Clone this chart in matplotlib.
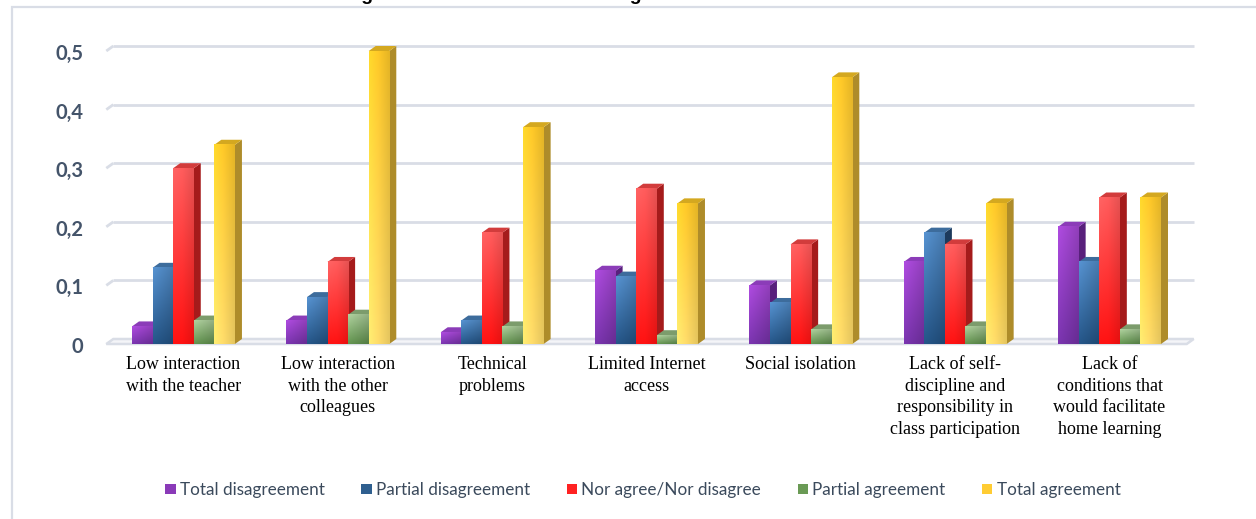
import numpy as np
import matplotlib
matplotlib.use("Agg")
import matplotlib.pyplot as plt
from matplotlib.patches import Polygon, Rectangle, Patch
from matplotlib.colors import to_rgb

categories = [
    "Low interaction\nwith the teacher",
    "Low interaction\nwith the other\ncolleagues",
    "Technical\nproblems",
    "Limited Internet\naccess",
    "Social isolation",
    "Lack of self-\ndiscipline and\nresponsibility in\nclass participation",
    "Lack of\nconditions that\nwould facilitate\nhome learning",
]
series_names = [
    "Total disagreement",
    "Partial disagreement",
    "Nor agree/Nor disagree",
    "Partial agreement",
    "Total agreement",
]
total_disagreement = [0.03, 0.04, 0.02, 0.125, 0.10, 0.14, 0.20]
partial_disagreement = [0.13, 0.08, 0.04, 0.115, 0.07, 0.19, 0.14]
neutral = [0.30, 0.14, 0.19, 0.265, 0.17, 0.17, 0.25]
partial_agreement = [0.04, 0.05, 0.03, 0.015, 0.025, 0.03, 0.025]
total_agreement = [0.34, 0.50, 0.37, 0.24, 0.455, 0.24, 0.25]
y_ticks = [0, 0.1, 0.2, 0.3, 0.4, 0.5]
y_tick_labels = ["0", "0,1", "0,2", "0,3", "0,4", "0,5"]

series = [total_disagreement, partial_disagreement, neutral,
          partial_agreement, total_agreement]

# (front top, front bottom, side, top face, legend swatch)
shades = [
    ("#a246d0", "#7231a3", "#58207c", "#8b3cb8", "#8a3ab8"),
    ("#5088c2", "#22507f", "#1d3a5c", "#3d6c9c", "#2f5f8f"),
    ("#ff5c5c", "#ff1212", "#a51b1b", "#d23c3c", "#ff2222"),
    ("#a3c393", "#5c8a4a", "#4a6a3a", "#7c9c6c", "#6a9a55"),
    ("#ffc928", "#ffdc6a", "#ae8c2a", "#d4a820", "#ffcc33"),
]

W, H = 1256, 519
fig = plt.figure(figsize=(W / 100, H / 100), dpi=100)

# outer chart frame
fig.add_artist(Rectangle((12 / W, -0.1), 1.2, 1 - 7 / H + 0.1,
                         transform=fig.transFigure, fill=False,
                         edgecolor="#d9dde6", lw=1.6))

# figure caption (sits mostly above the canvas edge)
fig.text(596 / W, 1 - 0.5 / H, "Figure 5. Perceived disadvantages of online education",
         ha="center", va="baseline", fontsize=14, fontweight="bold",
         family="Liberation Sans", color="black")

ax_left, ax_right = 106.3, 1186.7
ax_bottom_px, ax_top_px = 344, 51
ax = fig.add_axes([ax_left / W, 1 - ax_bottom_px / H,
                   (ax_right - ax_left) / W, (ax_bottom_px - ax_top_px) / H])
ax.set_xlim(-0.5, 6.5)
ax.set_ylim(0, 0.5)
ax.axis("off")

ppx = (ax_right - ax_left) / 7.0
ppy = (ax_bottom_px - ax_top_px) / 0.5
dx = 7 / ppx
dy = 5 / ppy

# back-wall gridlines with a short slanted lead-in
grid_c = "#d9dde6"
for v in y_ticks[1:]:
    ax.plot([-0.5, -0.5 + dx], [v, v + dy], color=grid_c, lw=2, zorder=1,
            clip_on=False, solid_capstyle="butt")
    ax.plot([-0.5 + dx, 6.5 + dx], [v + dy, v + dy], color=grid_c, lw=2,
            zorder=1, clip_on=False, solid_capstyle="butt")

# floor
floor = Polygon([(-0.5, 0), (6.5, 0), (6.5 + dx, dy), (-0.5 + dx, dy)],
                closed=True, facecolor="#f4f5f8", edgecolor=grid_c, lw=1.8,
                zorder=1.5, clip_on=False)
ax.add_patch(floor)

n_series = len(series)
group_w = 0.667
bw = group_w / n_series


def gradient_image(c_top, c_bot, n=64):
    t = np.linspace(0, 1, n)[:, None]
    top = np.array(to_rgb(c_top))
    bot = np.array(to_rgb(c_bot))
    col = top[None, :] * (1 - t) + bot[None, :] * t
    img = np.repeat(col[:, None, :], 16, axis=1)
    # gentle horizontal sheen: lighter on the left, darker on the right
    h = np.linspace(1.08, 0.9, 16)[None, :, None]
    return np.clip(img * h, 0, 1)


for k, vals in enumerate(series):
    c_top, c_bot, c_side, c_cap, _ = shades[k]
    img = gradient_image(c_top, c_bot)
    for i, v in enumerate(vals):
        x0 = i - group_w / 2 + k * bw
        z = 3 + k * 0.1
        side = Polygon([(x0 + bw, 0), (x0 + bw + dx, dy),
                        (x0 + bw + dx, v + dy), (x0 + bw, v)],
                       closed=True, facecolor=c_side, edgecolor="none",
                       zorder=z, clip_on=False)
        cap = Polygon([(x0, v), (x0 + bw, v), (x0 + bw + dx, v + dy),
                       (x0 + dx, v + dy)], closed=True, facecolor=c_cap,
                      edgecolor="none", zorder=z, clip_on=False)
        ax.add_patch(side)
        ax.add_patch(cap)
        im = ax.imshow(img, extent=(x0, x0 + bw, 0, v), aspect="auto",
                       origin="upper", zorder=z + 0.01, interpolation="bilinear")
        im.set_clip_on(False)

ax.set_xlim(-0.5, 6.5)
ax.set_ylim(0, 0.5)

# y tick labels
for v, lab in zip(y_ticks, y_tick_labels):
    ax.text(-0.5 - 23 / ppx, v - 3 / ppy, lab, ha="right", va="center",
            fontsize=14.5, fontweight="bold", family="Lato", color="#44546A",
            clip_on=False)

# category labels
for i, lab in enumerate(categories):
    ax.text(i, -12 / ppy, lab, ha="center", va="top", fontsize=13,
            family="Liberation Serif", color="black", linespacing=1.36,
            clip_on=False)

handles = [Patch(facecolor=s[4], edgecolor="none") for s in shades]
fig.legend(handles, series_names, loc="center", ncol=5,
           bbox_to_anchor=(643 / W, 1 - 490 / H), frameon=False,
           handlelength=0.6, handleheight=0.6, handletextpad=0.25,
           columnspacing=2.15, prop={"family": "Lato", "size": 12.3},
           labelcolor="#3b4a5c")

fig.savefig("out.png", dpi=100)
